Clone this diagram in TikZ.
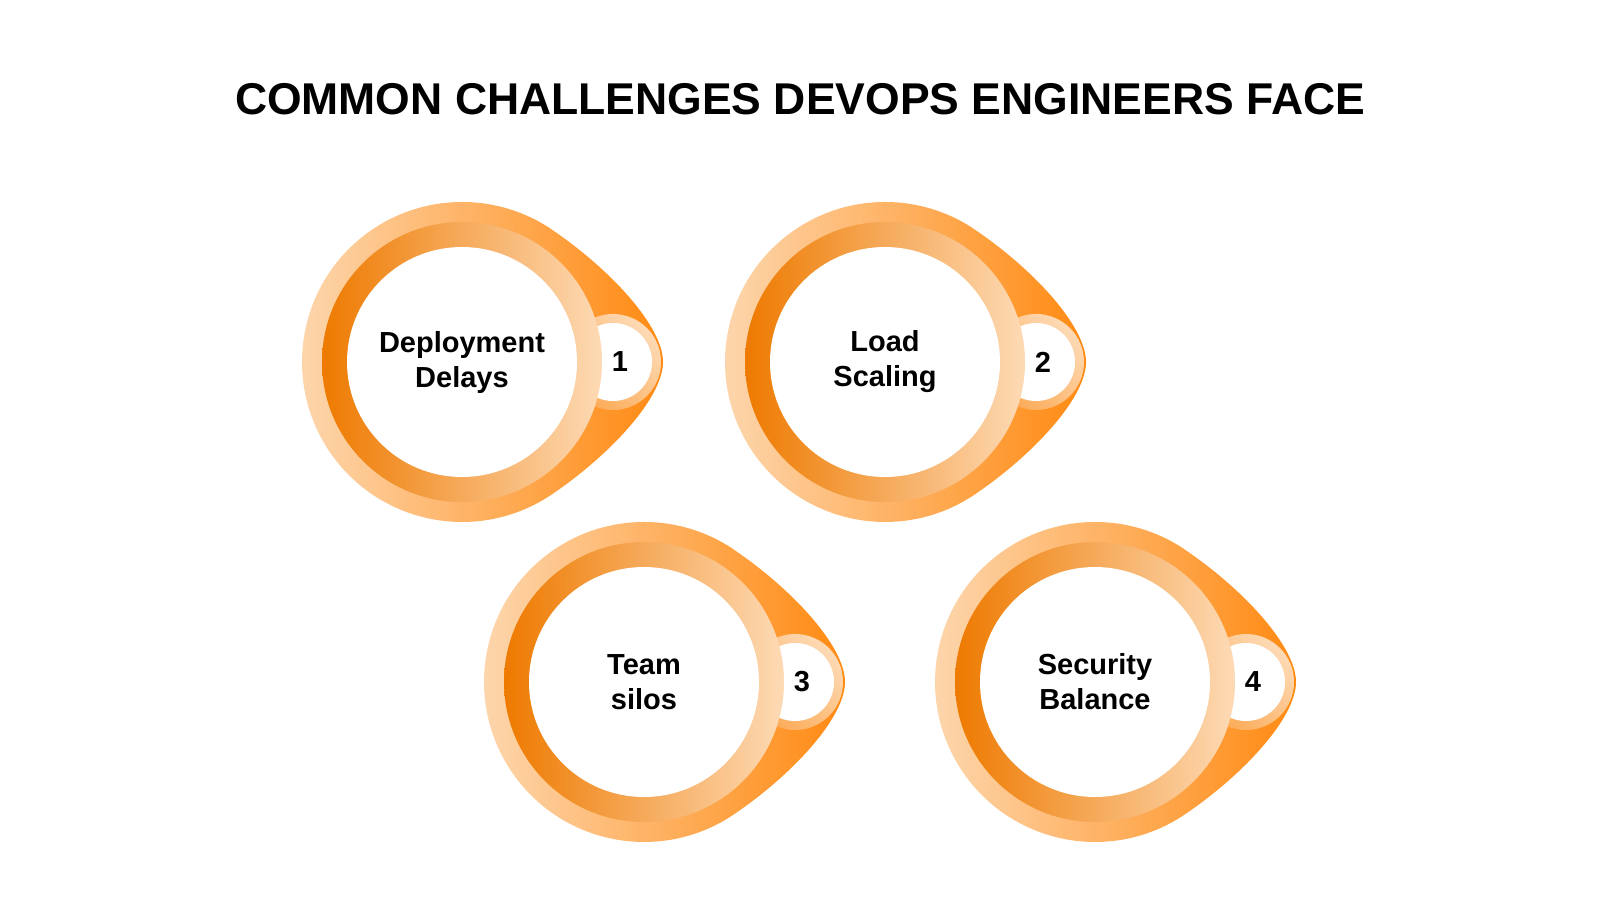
\documentclass[tikz,border=0pt]{standalone}
\usepackage{fontspec}
\setmainfont{Liberation Sans}
\definecolor{peach}{HTML}{FDDAB5}
\definecolor{deep}{HTML}{EE7A00}
\definecolor{bright}{HTML}{FF8A12}
\definecolor{midor}{HTML}{FCAA55}
\tikzset{
  drop/.style={left color=peach, right color=bright},
  ring/.style={left color=deep, right color=peach},
  smallring/.style={bottom color=midor, top color=peach, shading angle=-45},
  lbl/.style={font=\fontsize{29}{35}\selectfont\bfseries, align=center, text=black},
  num/.style={font=\fontsize{29}{35}\selectfont\bfseries, text=black},
  title/.style={font=\fontsize{44.5}{54}\selectfont\bfseries, text=black},
}
\newcommand\challenge[5]{%
  \begin{scope}[shift={(#2,#3)}]
    \path[drop] (89.5,-132.6) .. controls (147.5,-93.5) and (201,-36) .. (201,0)
      .. controls (201,36) and (147.5,93.5) .. (89.5,132.6)
      arc[start angle=56, end angle=304, radius=160] -- cycle;
    \path[smallring] (151,0) circle[radius=48];
    \path[fill=white] (151,0) circle[radius=39];
    \path[ring] (0,0) circle[radius=140];
    \node[circle, fill=white, minimum size=230pt, inner sep=0pt, lbl] (#1) at (0,0) {#4};
    \node[num] (#1n) at (158,0) {#5};
  \end{scope}}
\begin{document}
\begin{tikzpicture}[x=1pt, y=-1pt]
  \useasboundingbox (0,0) rectangle (1600,900);
  \node[title] (title) at (800,99) {COMMON CHALLENGES DEVOPS ENGINEERS FACE};
  \challenge{c1}{462}{362}{Deployment\\Delays}{1}
  \challenge{c2}{885}{362}{Load\\Scaling}{2}
  \challenge{c3}{644}{682}{Team\\silos}{3}
  \challenge{c4}{1095}{682}{Security\\Balance}{4}
\end{tikzpicture}
\end{document}
